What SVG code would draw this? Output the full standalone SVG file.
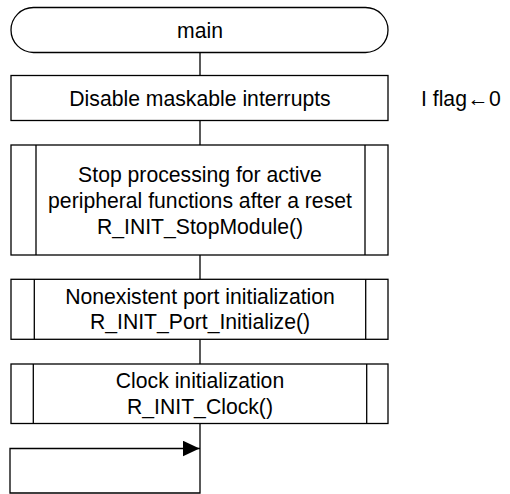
<svg xmlns="http://www.w3.org/2000/svg" width="510" height="494" viewBox="0 0 510 494">
<style>
.s{fill:#fff;stroke:#000;stroke-width:1.3}
.l{fill:none;stroke:#000;stroke-width:1.3}
text{font-family:"Liberation Sans",Arial,sans-serif;font-size:21.2px;fill:#000;text-anchor:middle}
</style>
<defs>
<marker id="ah" markerWidth="17" markerHeight="16" refX="17" refY="8" orient="auto" markerUnits="userSpaceOnUse">
<path d="M0,0 L17,8 L0,16 Z" fill="#000"/>
</marker>
</defs>
<g id="connectors">
<path class="l" d="M200,52.5 V75.5"/>
<path class="l" d="M200,120.5 V145"/>
<path class="l" d="M200,255 V279.3"/>
<path class="l" d="M200,339.3 V364"/>
<path class="l" d="M200,423.5 V493 H10 V448.5 H199.5" marker-end="url(#ah)"/>
</g>
<g id="start">
<rect class="s" x="11" y="7.5" width="377" height="45" rx="22.5"/>
<text x="200" y="37.5">main</text>
</g>
<g id="disable">
<rect class="s" x="11" y="75.5" width="377" height="45"/>
<text x="200" y="105.5">Disable maskable interrupts</text>
</g>
<g id="note">
<text x="421" y="105.5" style="text-anchor:start">I flag<tspan style="word-spacing:-5.5px"> ← 0</tspan></text>
</g>
<g id="stop">
<rect class="s" x="11" y="145" width="377" height="110"/>
<path class="l" d="M36,145 V255 M365,145 V255"/>
<text x="200" y="181.5">Stop processing for active</text>
<text x="200" y="207.5">peripheral functions after a reset</text>
<text x="200" y="233.5">R_INIT_StopModule()</text>
</g>
<g id="port">
<rect class="s" x="11" y="279.3" width="377" height="60"/>
<path class="l" d="M34.3,279.3 V339.3 M365.7,279.3 V339.3"/>
<text x="200" y="303.5">Nonexistent port initialization</text>
<text x="200" y="329">R_INIT_Port_Initialize()</text>
</g>
<g id="clock">
<rect class="s" x="11" y="364" width="377" height="59.5"/>
<path class="l" d="M33.3,364 V423.5 M366.7,364 V423.5"/>
<text x="200" y="388">Clock initialization</text>
<text x="200" y="413.5">R_INIT_Clock()</text>
</g>
</svg>
